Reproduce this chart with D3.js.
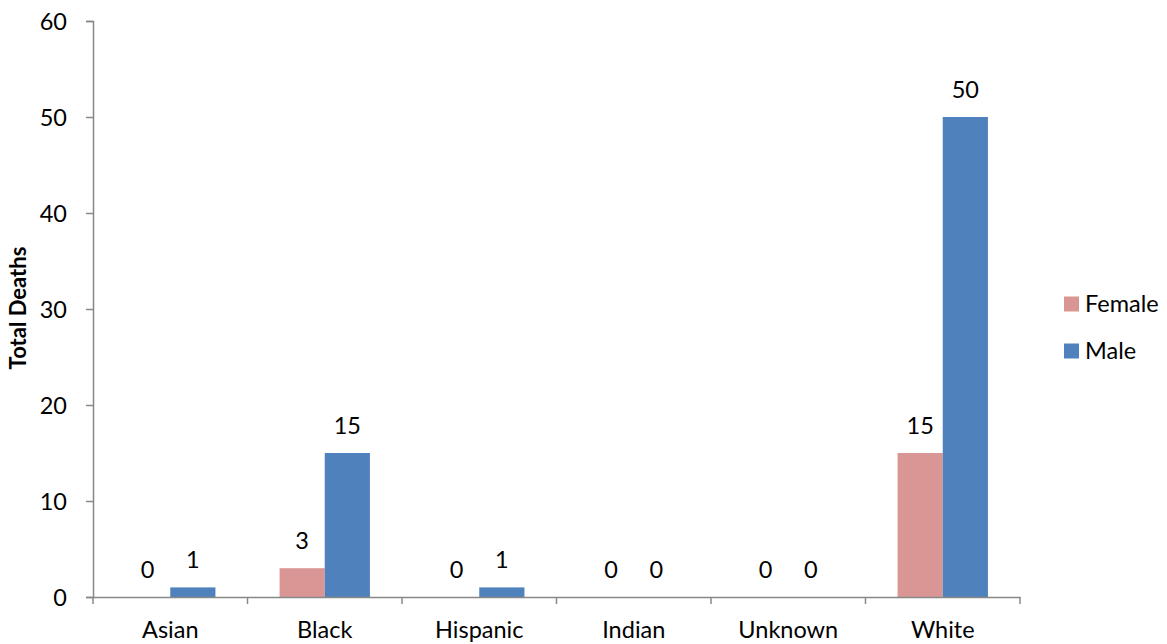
<!DOCTYPE html>
<html><head><meta charset="utf-8">
<script src="https://cdn.jsdelivr.net/npm/d3@7"></script>
<style>body{margin:0;background:#fff}svg text{font-family:Lato,"Open Sans",sans-serif;fill:#000}</style>
</head><body><svg id="c" width="1167" height="644"></svg>
<script>
const categories = ["Asian","Black","Hispanic","Indian","Unknown","White"];
const seriesNames = ["Female","Male"];
const female = [0,3,0,0,0,15];
const male = [1,15,1,0,0,50];
const yTicks = [0,10,20,30,40,50,60];
const colors = ["#D99694","#4F81BD"];

const svg = d3.select("#c");
const L=93, R=1020, T=21, B=597;
const x = d3.scaleBand().domain(categories).range([L,R]).paddingInner(0).paddingOuter(0);
const inner = d3.scaleBand().domain(seriesNames).range([0,x.bandwidth()]).paddingInner(0).paddingOuter(0.71);
const y = d3.scaleLinear().domain([0,60]).range([B,T]);
const data = [female, male];
const fs = "23.5px";

// bars
seriesNames.forEach((s,si)=>{
  const g = svg.append("g");
  categories.forEach((c,ci)=>{
    const v = data[si][ci];
    g.append("rect").attr("x",x(c)+inner(s)).attr("width",inner.bandwidth())
      .attr("y",y(v)).attr("height",B-y(v)).attr("fill",colors[si]);
    g.append("text").attr("x",x(c)+inner(s)+inner.bandwidth()/2).attr("y",y(v)-19.5)
      .attr("text-anchor","middle").style("font-size",fs).text(v);
  });
});

// y axis
const ya = svg.append("g").attr("transform",`translate(${L},0)`)
  .call(d3.axisLeft(y).tickValues(yTicks).tickSize(7).tickPadding(19).tickFormat(d3.format("d")));
ya.select(".domain").attr("stroke","#888").attr("stroke-width",1.5);
ya.selectAll(".tick line").attr("stroke","#888").attr("stroke-width",1.5);
ya.selectAll("text").style("font-size",fs).attr("fill","#000").attr("dy","0.36em");

// x axis
const xa = svg.append("g").attr("transform",`translate(0,${B})`)
  .call(d3.axisBottom(x).tickSize(0).tickPadding(0));
xa.select(".domain").attr("stroke","#888").attr("stroke-width",1.5);
xa.selectAll("text").style("font-size",fs).attr("fill","#000").attr("y",41).attr("dy",null);
const edges = d3.range(categories.length+1).map(i=>L+i*x.step());
xa.selectAll(".edge").data(edges).enter().append("line").attr("class","edge")
  .attr("x1",d=>d).attr("x2",d=>d).attr("y1",0).attr("y2",7).attr("stroke","#888").attr("stroke-width",1.5);

// y title
svg.append("text").attr("transform","translate(17,308) rotate(-90)").attr("text-anchor","middle")
  .attr("dominant-baseline","central").style("font-size","22px").style("font-weight","bold").text("Total Deaths");

// legend
const lg = svg.append("g");
seriesNames.forEach((s,i)=>{
  const cy = 304 + i*47;
  lg.append("rect").attr("x",1064).attr("y",cy-7.5).attr("width",15).attr("height",15).attr("fill",colors[i]);
  lg.append("text").attr("x",1085).attr("y",cy).attr("dy","0.36em").style("font-size",fs).text(s);
});
</script></body></html>
